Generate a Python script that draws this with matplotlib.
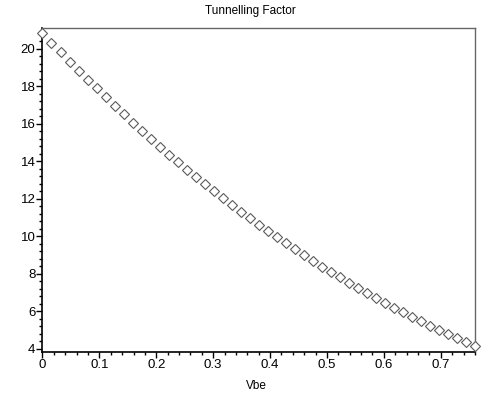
import matplotlib
matplotlib.use('Agg')
import matplotlib.pyplot as plt
from matplotlib.ticker import MultipleLocator

plt.rcParams['font.family'] = ['Liberation Sans', 'DejaVu Sans']

# Vbe sweep (x) and tunnelling factor (y)
vbe = [0.0, 0.0158, 0.0317, 0.0475, 0.0633, 0.0792, 0.095, 0.1108, 0.1267,
       0.1425, 0.1583, 0.1742, 0.19, 0.2058, 0.2217, 0.2375, 0.2533, 0.2692,
       0.285, 0.3008, 0.3167, 0.3325, 0.3483, 0.3642, 0.38, 0.3958, 0.4117,
       0.4275, 0.4433, 0.4592, 0.475, 0.4908, 0.5067, 0.5225, 0.5383, 0.5542,
       0.57, 0.5858, 0.6017, 0.6175, 0.6333, 0.6492, 0.665, 0.6808, 0.6967,
       0.7125, 0.7283, 0.7442, 0.76]
factor = [20.86, 20.32, 19.82, 19.33, 18.84, 18.36, 17.89, 17.43, 16.97,
          16.52, 16.07, 15.63, 15.20, 14.78, 14.36, 13.95, 13.55, 13.16,
          12.77, 12.39, 12.02, 11.66, 11.30, 10.95, 10.61, 10.27, 9.94,
          9.62, 9.30, 8.99, 8.68, 8.38, 8.09, 7.80, 7.52, 7.24, 6.97,
          6.71, 6.45, 6.19, 5.94, 5.70, 5.46, 5.23, 5.00, 4.78, 4.56,
          4.35, 4.14]

title = 'Tunnelling Factor'
xlabel = 'Vbe'

fig = plt.figure(figsize=(4.84, 3.94), dpi=100)
ax = fig.add_axes([0.0878, 0.1066, 0.8946, 0.8224])

ax.plot(vbe, factor, linestyle='none', marker='D', markersize=5,
        markerfacecolor='white', markeredgecolor='#5a5a5a',
        markeredgewidth=0.8, clip_on=False, zorder=3)

ax.set_xlim(0, 0.761)
ax.set_ylim(3.82, 21.12)

ax.xaxis.set_major_locator(MultipleLocator(0.1))
ax.xaxis.set_minor_locator(MultipleLocator(0.02))
ax.yaxis.set_major_locator(MultipleLocator(2))
ax.yaxis.set_minor_locator(MultipleLocator(0.4))
ax.xaxis.set_major_formatter(plt.FuncFormatter(lambda v, p: '%g' % round(v, 2)))

ax.tick_params(which='major', direction='out', length=4, width=1,
               labelsize=9.5, pad=1, colors='black')
ax.tick_params(which='minor', direction='out', length=2.5, width=1)

for s in ['left', 'bottom']:
    ax.spines[s].set_color('black')
    ax.spines[s].set_linewidth(1.2)
for s in ['top', 'right']:
    ax.spines[s].set_color('#666666')
    ax.spines[s].set_linewidth(1.0)

fig.text(0.517, 0.971, title, ha='center', va='center', fontsize=8.5)
fig.text(0.529, 0.021, xlabel, ha='center', va='center', fontsize=8.5)

fig.savefig('out.png', dpi=100)
